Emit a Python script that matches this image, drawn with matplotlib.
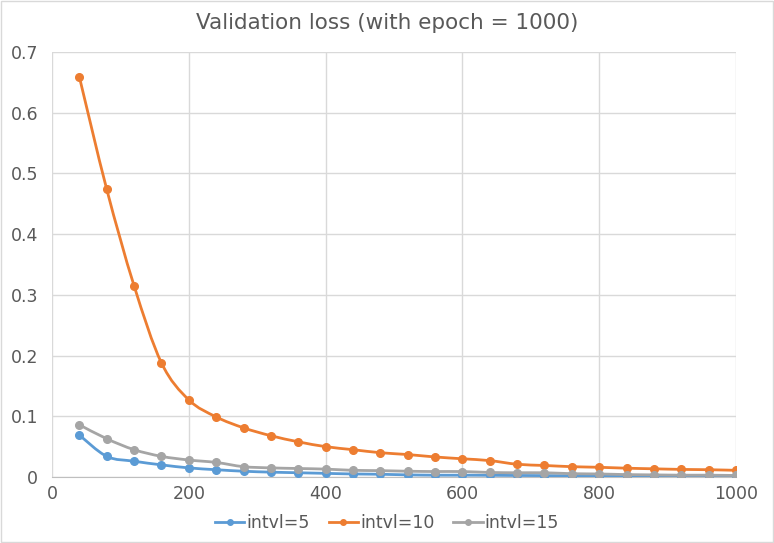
import matplotlib.pyplot as plt
from matplotlib.path import Path
from matplotlib.patches import PathPatch, Rectangle
from matplotlib.lines import Line2D

plt.rcParams['font.family'] = ['DejaVu Sans']

epochs = [40, 80, 120, 160, 200, 240, 280, 320, 360, 400, 440, 480, 520,
          560, 600, 640, 680, 720, 760, 800, 840, 880, 920, 960, 1000]
loss_5 = [0.069, 0.034, 0.026, 0.020, 0.015, 0.012, 0.0095, 0.008, 0.007,
          0.006, 0.005, 0.0045, 0.0035, 0.003, 0.003, 0.0028, 0.0025, 0.0023,
          0.002, 0.002, 0.0018, 0.0017, 0.0016, 0.0015, 0.0015]
loss_10 = [0.659, 0.474, 0.315, 0.188, 0.127, 0.099, 0.081, 0.068, 0.058,
           0.050, 0.045, 0.040, 0.037, 0.033, 0.030, 0.027, 0.021, 0.019,
           0.017, 0.016, 0.0145, 0.0135, 0.0125, 0.012, 0.011]
loss_15 = [0.086, 0.063, 0.045, 0.034, 0.028, 0.024, 0.017, 0.015, 0.014,
           0.013, 0.011, 0.0105, 0.0095, 0.009, 0.009, 0.0075, 0.007, 0.007,
           0.0055, 0.005, 0.004, 0.0035, 0.003, 0.003, 0.0025]
labels = ['intvl=5', 'intvl=10', 'intvl=15']
colors = ['#5B9BD5', '#ED7D31', '#A5A5A5']


def smooth_path(xs, ys, t=1 / 6):
    # Excel-like smoothed line: cardinal spline as cubic Bezier segments
    verts = [(xs[0], ys[0])]
    codes = [Path.MOVETO]
    n = len(xs)
    for i in range(n - 1):
        x0, y0 = (xs[i - 1], ys[i - 1]) if i > 0 else (xs[i], ys[i])
        x1, y1 = xs[i], ys[i]
        x2, y2 = xs[i + 1], ys[i + 1]
        x3, y3 = (xs[i + 2], ys[i + 2]) if i + 2 < n else (x2, y2)
        c1 = (x1 + (x2 - x0) * t, y1 + (y2 - y0) * t)
        c2 = (x2 - (x3 - x1) * t, y2 - (y3 - y1) * t)
        verts += [c1, c2, (x2, y2)]
        codes += [Path.CURVE4] * 3
    return Path(verts, codes)


fig = plt.figure(figsize=(7.74, 5.43), dpi=100)
ax = fig.add_axes([52 / 774, 1 - 477 / 543, 684 / 774, 425 / 543])

for ys, lab, c in zip([loss_5, loss_10, loss_15], labels, colors):
    ax.add_patch(PathPatch(smooth_path(epochs, ys), fill=False, edgecolor=c,
                           lw=2, zorder=3))
    ax.plot(epochs, ys, 'o', color=c, ms=5.5, zorder=4)

ax.set_xlim(0, 1000)
ax.set_ylim(0, 0.7)
ax.set_xticks(range(0, 1001, 200))
ax.set_yticks([0, 0.1, 0.2, 0.3, 0.4, 0.5, 0.6, 0.7])
ax.set_yticklabels(['0', '0.1', '0.2', '0.3', '0.4', '0.5', '0.6', '0.7'])
ax.grid(True, color='#D9D9D9', lw=1)
ax.set_axisbelow(True)
for s in ['top', 'right', 'left']:
    ax.spines[s].set_visible(False)
ax.spines['bottom'].set_color('#BFBFBF')
ax.tick_params(length=0, labelsize=12.5, labelcolor='#595959', pad=6)
ax.tick_params(axis='y', pad=10)

fig.text(0.5, 1 - 23 / 543, 'Validation loss (with epoch = 1000)',
         ha='center', va='center', fontsize=15.5, color='#595959')

handles = [Line2D([], [], color=c, lw=2, marker='o', ms=4) for c in colors]
fig.legend(handles, labels, loc='center', bbox_to_anchor=(0.5, 1 - 523 / 543),
           ncol=3, frameon=False, fontsize=12.5, labelcolor='#595959',
           handlelength=1.7, handletextpad=0.1, columnspacing=1.1)

fig.add_artist(Rectangle((0.001, 0.001), 0.998, 0.998, transform=fig.transFigure,
                         fill=False, edgecolor='#D9D9D9', lw=1))
fig.savefig('out.png', dpi=100)
